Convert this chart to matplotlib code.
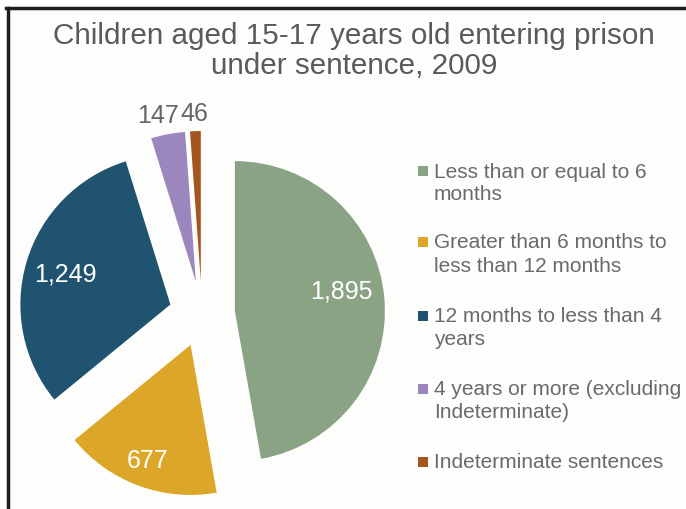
import matplotlib
matplotlib.use("Agg")
import matplotlib.pyplot as plt
from matplotlib.patches import Rectangle
import numpy as np

plt.rcParams['font.family'] = ['Liberation Sans', 'DejaVu Sans']

# Sentence-length categories and prisoner counts
categories = [
    "Less than or equal to 6\nmonths",
    "Greater than 6 months to\nless than 12 months",
    "12 months to less than 4\nyears",
    "4 years or more (excluding\nIndeterminate)",
    "Indeterminate sentences",
]
counts = [1895, 677, 1249, 147, 46]
count_labels = ["1,895", "677", "1,249", "147", "46"]
colors = ["#8ba385", "#dca628", "#1f5370", "#9b86bd", "#a4541f"]

W, H = 686, 510
R_PX = 150.0          # pie radius in pixels
CX, CY = 202.0, 315.0 # pie centre in pixels (from top-left)

fig = plt.figure(figsize=(W / 100, H / 100), dpi=100)
fig.patch.set_facecolor("#fdfdfb")

ax = fig.add_axes([0, 0, 1, 1])
wedges, _ = ax.pie(counts, colors=colors, startangle=90, counterclock=False,
                   explode=[0.22] * len(counts), radius=1.0,
                   wedgeprops=dict(linewidth=0))
ax.set_xlim(-CX / R_PX, (W - CX) / R_PX)
ax.set_ylim(-(H - CY) / R_PX, CY / R_PX)
ax.set_position([0, 0, 1, 1])
ax.axis("off")

# value labels: inside for large wedges, above for the thin ones
label_dist = [0.72, 0.82, 0.73, 1.14, 1.12]
label_turn = [6.0, 0.0, 0.0, 2.0, 0.0]     # degrees added to the wedge bisector
label_inside = [True, True, True, False, False]
for w, txt, d, dt, inside in zip(wedges, count_labels, label_dist,
                                 label_turn, label_inside):
    th = np.deg2rad((w.theta1 + w.theta2) / 2 + dt)
    cx, cy = w.center
    x = cx + d * np.cos(th)
    y = cy + d * np.sin(th)
    ax.text(x, y, txt, ha="center", va="center", fontsize=18,
            color="white" if inside else "#666666")

# title
fig.text(354 / W, 1 - 44 / H, "Children aged 15-17 years old entering prison",
         ha="center", va="baseline", fontsize=21.3, color="#5a5a5a")
fig.text(354 / W, 1 - 74 / H, "under sentence, 2009",
         ha="center", va="baseline", fontsize=21.3, color="#5a5a5a")

# legend
entry_y = [172, 243, 317, 390, 463]
line_gap = 23
for lab, col, y0 in zip(categories, colors, entry_y):
    fig.patches.append(Rectangle(((418) / W, 1 - (y0 + 5) / H), 10 / W, 10 / H,
                                 transform=fig.transFigure, facecolor=col,
                                 edgecolor="none"))
    for k, line in enumerate(lab.split("\n")):
        fig.text(434 / W, 1 - (y0 + k * line_gap) / H, line, ha="left",
                 va="center", fontsize=15, color="#6a6a6a")

# frame lines along the top and left edges
fig.add_artist(plt.Line2D([6 / W, 1], [1 - 8.5 / H, 1 - 8.5 / H],
                          transform=fig.transFigure, color="#1e1e1e", lw=2.5))
fig.add_artist(plt.Line2D([7.5 / W, 7.5 / W], [0, 1 - 8.5 / H],
                          transform=fig.transFigure, color="#1e1e1e", lw=2.5))

fig.savefig("out.png", dpi=100, facecolor=fig.get_facecolor())
